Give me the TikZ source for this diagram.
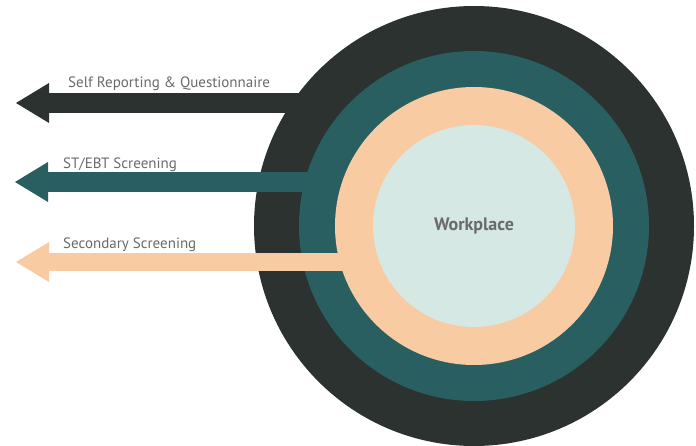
\documentclass[tikz,border=0pt]{standalone}
\usepackage{fontspec}
\setmainfont{PT Sans}
\usetikzlibrary{arrows.meta}
\definecolor{ringDark}{HTML}{2B3230}
\definecolor{ringTeal}{HTML}{2A5F61}
\definecolor{ringPeach}{HTML}{F8CBA3}
\definecolor{ringCore}{HTML}{D5E8E4}
\definecolor{labelGray}{HTML}{6A6A6A}

\begin{document}
\begin{tikzpicture}[x=1pt, y=-1pt,
		Ring/.style={circle, inner sep=0pt, minimum size=#1},
		Band/.style={line width=#1, arrows = -{Triangle[length=33pt, width=40pt, line width=0pt]}},
		Beschriftung/.style={anchor=base west, inner sep=0pt, text=labelGray, font=\fontsize{15}{17}\selectfont}]
				\useasboundingbox (0,0) rectangle (696,446);
				\coordinate (m) at (474,226);
				% outer ring and its arrow
				\node[Ring=440pt, fill=ringDark] (r1) at (m) {};
				\coordinate (s1) at (330,103);
				\coordinate (t1) at (16,103);
				\draw[Band=20pt, ringDark] (s1) -- (t1);
				\node[Beschriftung] (l1) at (68,88) {Self Reporting \& Questionnaire};
				% second ring
				\node[Ring=350pt, fill=ringTeal] (r2) at (m) {};
				\coordinate (s2) at (345,182);
				\coordinate (t2) at (15,182);
				\draw[Band=20pt, ringTeal] (s2) -- (t2);
				\node[Beschriftung] (l2) at (63,169) {ST/EBT Screening};
				% third ring
				\node[Ring=278pt, fill=ringPeach] (r3) at (m) {};
				\coordinate (s3) at (390,262);
				\coordinate (t3) at (16,262);
				\draw[Band=18pt, ringPeach] (s3) -- (t3);
				\node[Beschriftung] (l3) at (63,249) {Secondary Screening};
				% core
				\node[Ring=202pt, fill=ringCore, text=labelGray, font=\fontsize{18}{20}\selectfont\bfseries] (r4) at (m) {Workplace};
			\end{tikzpicture}
\end{document}
